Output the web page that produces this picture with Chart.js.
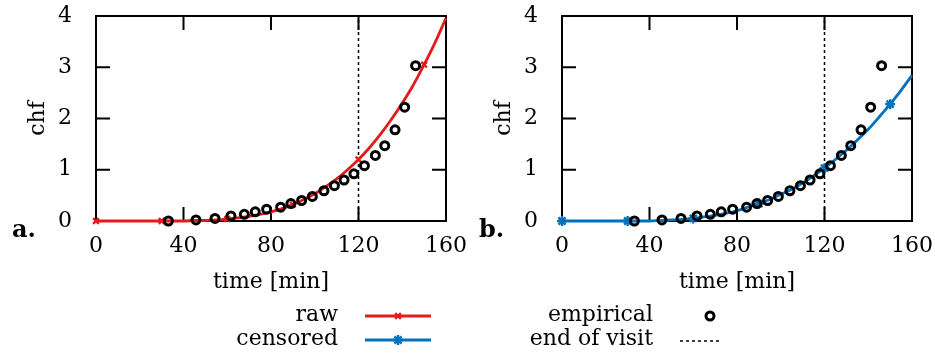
<!DOCTYPE html>
<html>
<head>
<meta charset="utf-8">
<script src="https://cdn.jsdelivr.net/npm/chart.js@4/dist/chart.umd.min.js"></script>
<style>
  html, body { margin: 0; padding: 0; background: #fff; }
  #page { position: relative; width: 935px; height: 354px; overflow: hidden; font-family: 'DejaVu Serif', serif; color: #000; }
  .panel { position: absolute; top: 0; width: 468px; height: 300px; }
  .tag { position: absolute; font-size: 24px; line-height: 24px; font-weight: bold; }
  .leg { position: absolute; font-size: 22px; line-height: 22px; text-align: right; white-space: nowrap; }
  #legendCanvas { position: absolute; left: 0; top: 290px; }
</style>
</head>
<body>
<div id="page">
  <div class="panel" style="left:0"><canvas id="chartA" width="468" height="300"></canvas></div>
  <div class="panel" style="left:466px"><canvas id="chartB" width="468" height="300"></canvas></div>
  <div class="tag" style="left:12px; top:217px">a.</div>
  <div class="tag" style="left:479px; top:217px">b.</div>
  <canvas id="legendCanvas" width="935" height="64"></canvas>
  <div class="leg" style="right:597px; top:303px">raw</div>
  <div class="leg" style="right:597px; top:327px">censored</div>
  <div class="leg" style="right:282px; top:303px">empirical</div>
  <div class="leg" style="right:282px; top:327px">end of visit</div>
</div>
<script>
const timeGrid = [0, 5, 10, 15, 20, 25, 30, 35, 40, 45, 50, 55, 60, 65, 70, 75, 80,
  85, 90, 95, 100, 105, 110, 115, 120, 125, 130, 135, 140, 145, 150, 155, 160];
const rawChf = [0, 0, 0, 0, 0, 0, 0, 0, 0, 0.01, 0.01, 0.02, 0.04, 0.06, 0.09, 0.13, 0.18,
  0.24, 0.32, 0.42, 0.53, 0.67, 0.82, 1.0, 1.2, 1.43, 1.69, 1.98, 2.3, 2.65, 3.05, 3.48, 3.96];
const censoredChf = [0, 0, 0, 0, 0, 0, 0, 0, 0, 0.01, 0.02, 0.03, 0.05, 0.08, 0.11, 0.15, 0.2,
  0.27, 0.34, 0.42, 0.52, 0.62, 0.74, 0.88, 1.03, 1.2, 1.38, 1.58, 1.79, 2.03, 2.28, 2.55, 2.84];
const markerTimes = [0, 30, 60, 90, 120, 150];

const empiricalTime = [33.1, 45.7, 54.4, 61.7, 67.8, 72.8, 78.0, 84.4, 89.1, 94.0, 98.9,
  104.2, 109.0, 113.4, 117.9, 122.7, 127.7, 132.0, 136.7, 141.1, 146.1];
const empiricalChf = [0.0, 0.02, 0.05, 0.1, 0.13, 0.18, 0.23, 0.27, 0.34, 0.4, 0.48,
  0.59, 0.69, 0.8, 0.92, 1.08, 1.28, 1.47, 1.78, 2.22, 3.03];

const endOfVisit = 120;
const xTicks = [0, 40, 80, 120, 160];
const yTicks = [0, 1, 2, 3, 4];

const RED = '#e41a1c';
const BLUE = '#0072bd';
const FONT = { family: "'DejaVu Serif', serif", size: 22 };

// box around the plot and ticks pointing inwards on every side
const frameTicks = {
  id: 'frameTicks',
  beforeDatasetsDraw(chart) {
    const { ctx, chartArea: a, scales: { x, y } } = chart;
    ctx.save();
    ctx.strokeStyle = '#000';
    ctx.lineWidth = 2;
    ctx.strokeRect(a.left, a.top, a.right - a.left, a.bottom - a.top);
    ctx.beginPath();
    xTicks.forEach((v) => {
      const px = x.getPixelForValue(v);
      ctx.moveTo(px, a.bottom);
      ctx.lineTo(px, a.bottom - 14);
      ctx.moveTo(px, a.top);
      ctx.lineTo(px, a.top + 14);
    });
    yTicks.forEach((v) => {
      const py = y.getPixelForValue(v);
      ctx.moveTo(a.left, py);
      ctx.lineTo(a.left + 14, py);
      ctx.moveTo(a.right, py);
      ctx.lineTo(a.right - 14, py);
    });
    ctx.stroke();
    ctx.restore();
  },
};

function makePanel(canvasId, label, values, color, style) {
  const curve = timeGrid.map((t, i) => ({ x: t, y: values[i] }));
  const radius = timeGrid.map((t) => (markerTimes.includes(t) ? (style === 'star' ? 5 : 4) : 0));
  const empirical = empiricalTime.map((t, i) => ({ x: t, y: empiricalChf[i] }));

  return new Chart(document.getElementById(canvasId), {
    type: 'line',
    data: {
      datasets: [
        {
          label: 'empirical',
          data: empirical,
          showLine: false,
          pointStyle: 'circle',
          pointRadius: 4,
          pointBorderWidth: 3,
          pointBorderColor: '#000',
          pointBackgroundColor: 'rgba(0,0,0,0)',
          clip: false,
        },
        {
          label,
          data: curve,
          borderColor: color,
          borderWidth: 2.8,
          cubicInterpolationMode: 'monotone',
          pointStyle: style,
          pointRadius: radius,
          pointBorderWidth: 2.4,
          pointBorderColor: color,
          pointBackgroundColor: color,
          clip: false,
        },
        {
          label: 'end of visit',
          data: [{ x: endOfVisit, y: yTicks[0] }, { x: endOfVisit, y: yTicks[yTicks.length - 1] }],
          borderColor: '#000',
          borderWidth: 1.5,
          borderDash: [3, 3],
          pointRadius: 0,
        },
      ],
    },
    options: {
      responsive: false,
      animation: false,
      events: [],
      layout: { padding: { left: 0, top: 16, right: 22, bottom: 0 } },
      plugins: { legend: { display: false }, tooltip: { enabled: false } },
      scales: {
        x: {
          type: 'linear',
          min: 0,
          max: 160,
          grid: { display: false, drawTicks: false },
          border: { display: false },
          afterBuildTicks: (scale) => { scale.ticks = xTicks.map((v) => ({ value: v })); },
          afterFit: (scale) => {
            scale.height = 79;
            scale.paddingLeft = 0;
            scale.paddingRight = 0;
          },
          ticks: { color: '#000', font: FONT, padding: 12, maxRotation: 0 },
          title: { display: true, text: 'time [min]', color: '#000', font: FONT, padding: { top: 0, bottom: 5 } },
        },
        y: {
          type: 'linear',
          min: 0,
          max: 4,
          grid: { display: false, drawTicks: false },
          border: { display: false },
          afterBuildTicks: (scale) => { scale.ticks = yTicks.map((v) => ({ value: v })); },
          afterFit: (scale) => {
            scale.width = 96;
            scale.paddingTop = 0;
            scale.paddingBottom = 0;
          },
          ticks: { color: '#000', font: FONT, padding: 24 },
          title: { display: true, text: 'chf', color: '#000', font: FONT, padding: { top: 25, bottom: 0 } },
        },
      },
    },
    plugins: [frameTicks],
  });
}

function drawLegend() {
  const ctx = document.getElementById('legendCanvas').getContext('2d');
  const rows = [
    { y: 26, color: RED, style: 'crossRot', r: 4 },
    { y: 50, color: BLUE, style: 'star', r: 5 },
  ];
  rows.forEach((row) => {
    ctx.strokeStyle = row.color;
    ctx.fillStyle = row.color;
    ctx.lineWidth = 2.8;
    ctx.beginPath();
    ctx.moveTo(365, row.y);
    ctx.lineTo(431, row.y);
    ctx.stroke();
    ctx.lineWidth = 2.4;
    Chart.helpers.drawPoint(ctx, { pointStyle: row.style, radius: row.r, borderWidth: 2.4, rotation: 0 }, 398, row.y);
  });
  ctx.strokeStyle = '#000';
  ctx.fillStyle = 'rgba(0,0,0,0)';
  ctx.lineWidth = 3;
  Chart.helpers.drawPoint(ctx, { pointStyle: 'circle', radius: 4, borderWidth: 3, rotation: 0 }, 710, 26);
  ctx.lineWidth = 1.5;
  ctx.setLineDash([3, 3]);
  ctx.beginPath();
  ctx.moveTo(680, 51);
  ctx.lineTo(722, 51);
  ctx.stroke();
}

makePanel('chartA', 'raw', rawChf, RED, 'crossRot');
makePanel('chartB', 'censored', censoredChf, BLUE, 'star');
drawLegend();
</script>
</body>
</html>
